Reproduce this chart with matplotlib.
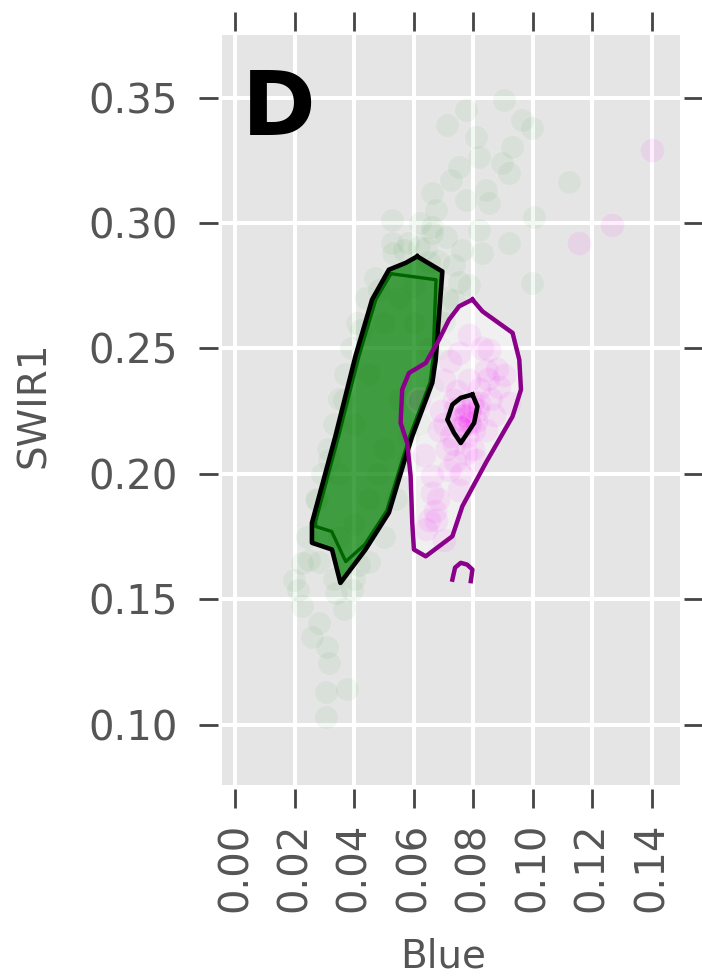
import numpy as np
import matplotlib.pyplot as plt
from matplotlib.patches import Polygon

# scattered samples (Blue, SWIR1)
green_x = [0.0904, 0.0712, 0.0776, 0.0965, 0.0998, 0.0931, 0.0810, 0.0820, 0.0752, 0.0897,
           0.0921, 0.0725, 0.0661, 0.0843, 0.0853, 0.0776, 0.0526, 0.0675, 0.1005, 0.0921,
           0.0708, 0.0820, 0.0830, 0.0617, 0.0526, 0.1123, 0.0998, 0.0762, 0.0661, 0.0735,
           0.0786, 0.0735, 0.0702, 0.0752, 0.0567, 0.0651,
           0.0246, 0.0223, 0.0337, 0.0280, 0.0256, 0.0307, 0.0314, 0.0304, 0.0374, 0.0304,
           0.0212, 0.0391, 0.0223, 0.0196, 0.0415, 0.0364,
           0.0314, 0.0364, 0.0422, 0.0273, 0.0482,
           0.027, 0.029, 0.031, 0.033, 0.035, 0.037, 0.039, 0.041, 0.044, 0.047,
           0.024, 0.028, 0.033, 0.064, 0.068, 0.071, 0.070, 0.069, 0.066, 0.062,
           0.058, 0.054, 0.050, 0.045, 0.040, 0.058, 0.053, 0.062, 0.066,
           0.035, 0.040, 0.045, 0.050, 0.055, 0.060, 0.055, 0.050, 0.045, 0.040,
           0.035, 0.060, 0.065, 0.058, 0.048]
green_y = [0.3492, 0.3392, 0.3452, 0.3412, 0.3380, 0.3305, 0.3345, 0.3265, 0.3225, 0.3241,
           0.3201, 0.3173, 0.3121, 0.3133, 0.3081, 0.3093, 0.3014, 0.3053, 0.3026, 0.2922,
           0.2946, 0.2974, 0.2882, 0.2906, 0.2922, 0.3165, 0.2762, 0.2894, 0.2986, 0.2834,
           0.2754, 0.2695, 0.2615, 0.2766, 0.2894, 0.2846,
           0.1658, 0.1471, 0.1526, 0.1407, 0.1351, 0.1311, 0.1247, 0.1128, 0.1140, 0.1032,
           0.1538, 0.1538, 0.1646, 0.1578, 0.1638, 0.1459,
           0.2057, 0.2296, 0.2575, 0.1897, 0.2734,
           0.190, 0.200, 0.210, 0.220, 0.230, 0.240, 0.250, 0.260, 0.270, 0.278,
           0.175, 0.165, 0.158, 0.290, 0.285, 0.270, 0.260, 0.250, 0.235, 0.220,
           0.205, 0.190, 0.175, 0.165, 0.158, 0.292, 0.288, 0.300, 0.296,
           0.200, 0.220, 0.240, 0.260, 0.270, 0.260, 0.230, 0.210, 0.190, 0.180,
           0.175, 0.275, 0.250, 0.215, 0.200]

magenta_x = [0.1400, 0.1268, 0.1157, 0.0752, 0.0843, 0.0887, 0.0820, 0.0762, 0.0776, 0.0685,
             0.0675, 0.0810, 0.0718, 0.0661, 0.0843, 0.0921, 0.0853, 0.0786, 0.0803, 0.0735,
             0.0786, 0.0870, 0.0735, 0.0752, 0.0634, 0.0702, 0.0904, 0.0651, 0.0702, 0.0786,
             0.0617, 0.0770, 0.0790, 0.0775, 0.0790, 0.0750, 0.0810, 0.0765, 0.0795, 0.0740,
             0.0670, 0.0640, 0.0660, 0.0720, 0.0830, 0.0860, 0.0700, 0.0760, 0.0780, 0.0745,
             0.0820, 0.0690, 0.0880, 0.0725, 0.0680, 0.0800, 0.0772, 0.0785, 0.0758, 0.0798,
             0.0815, 0.0740, 0.0710, 0.0850]
magenta_y = [0.3293, 0.2994, 0.2922, 0.2483, 0.2416, 0.2348, 0.2284, 0.2216, 0.2085, 0.2176,
             0.1817, 0.2057, 0.2017, 0.1925, 0.2176, 0.2284, 0.2495, 0.2256, 0.2176, 0.2296,
             0.2376, 0.2236, 0.2117, 0.1937, 0.2077, 0.2376, 0.2396, 0.1817, 0.1738, 0.2555,
             0.2296, 0.2230, 0.2200, 0.2250, 0.2240, 0.2220, 0.2210, 0.2190, 0.2270, 0.2260,
             0.1850, 0.1780, 0.1990, 0.2450, 0.2500, 0.2300, 0.2200, 0.2000, 0.2150, 0.2330,
             0.2340, 0.2250, 0.2420, 0.2150, 0.1900, 0.2100, 0.2235, 0.2205, 0.2185, 0.2285,
             0.2255, 0.2050, 0.2100, 0.2380]

# density contour outlines
green_outer_x = [0.06115, 0.06959, 0.06736, 0.06621, 0.05947, 0.05667, 0.05161, 0.04375, 0.03532,
                 0.03248, 0.02574, 0.02574, 0.03363, 0.04037, 0.04597, 0.05161, 0.05724]
green_outer_y = [0.2867, 0.2807, 0.2455, 0.2363, 0.2150, 0.2045, 0.1845, 0.1698, 0.1565,
                 0.1698, 0.1725, 0.1804, 0.2150, 0.2469, 0.2695, 0.2814, 0.2841]
green_inner_x = [0.05228, 0.06746, 0.06645, 0.06544, 0.05869, 0.05599, 0.05093, 0.04351, 0.03710,
                 0.03238, 0.02698, 0.02698, 0.03474, 0.04149, 0.04722]
green_inner_y = [0.2798, 0.2774, 0.2455, 0.2364, 0.2152, 0.2049, 0.1853, 0.1718, 0.1650,
                 0.1770, 0.1790, 0.1810, 0.2152, 0.2467, 0.2695]

magenta_outer_x = [0.0797, 0.08308, 0.0932, 0.09546, 0.09603, 0.0932, 0.08422, 0.07633, 0.07296,
                   0.06399, 0.06004, 0.05947, 0.05893, 0.05778, 0.05555, 0.05609, 0.05835, 0.06399,
                   0.06847, 0.07184, 0.07522]
magenta_outer_y = [0.2695, 0.2648, 0.2562, 0.2455, 0.2336, 0.2229, 0.2044, 0.1871, 0.1751,
                   0.1671, 0.1698, 0.1804, 0.1990, 0.2123, 0.2203, 0.2336, 0.2402, 0.2442,
                   0.2535, 0.2615, 0.2668]
magenta_arc_x = [0.07296, 0.07387, 0.07579, 0.07792, 0.0797, 0.07916]
magenta_arc_y = [0.1578, 0.1626, 0.1645, 0.1638, 0.1618, 0.1572]
magenta_inner_x = [0.0797, 0.08139, 0.08028, 0.07579, 0.07353, 0.07127, 0.07296, 0.07579]
magenta_inner_y = [0.2316, 0.2269, 0.2203, 0.2123, 0.2163, 0.2216, 0.2276, 0.2303]

xticks = [0.00, 0.02, 0.04, 0.06, 0.08, 0.10, 0.12, 0.14]
yticks = [0.10, 0.15, 0.20, 0.25, 0.30, 0.35]

fig = plt.figure(figsize=(7.02, 9.8), dpi=100)
ax = fig.add_axes([222 / 702, 1 - 785 / 980, 458 / 702, 750 / 980])
ax.set_facecolor('#E5E5E5')

ax.scatter(green_x, green_y, s=280, color='green', alpha=0.05,
           edgecolors='white', linewidths=2, zorder=2)
ax.add_patch(Polygon(np.column_stack([magenta_outer_x, magenta_outer_y]), closed=True,
                     facecolor='white', alpha=0.45, edgecolor='none', zorder=2))
ax.add_patch(Polygon(np.column_stack([green_outer_x, green_outer_y]), closed=True,
                     facecolor='green', alpha=0.72, edgecolor='none', zorder=3))
ax.scatter(magenta_x, magenta_y, s=300, color='magenta', alpha=0.075,
           edgecolors='white', linewidths=2, zorder=4)

ax.plot(green_inner_x + green_inner_x[:1], green_inner_y + green_inner_y[:1],
        color='darkgreen', lw=2.4, zorder=5)
ax.plot(green_outer_x + green_outer_x[:1], green_outer_y + green_outer_y[:1],
        color='black', lw=3.3, zorder=6)
ax.plot(magenta_outer_x + magenta_outer_x[:1], magenta_outer_y + magenta_outer_y[:1],
        color='#8B008B', lw=3.2, zorder=6)
ax.plot(magenta_arc_x, magenta_arc_y, color='#8B008B', lw=3.2, zorder=6)
ax.plot(magenta_inner_x + magenta_inner_x[:1], magenta_inner_y + magenta_inner_y[:1],
        color='black', lw=3.3, zorder=7)

ax.set_xlim(-0.0045, 0.1495)
ax.set_ylim(0.0759, 0.375)
ax.set_xticks(xticks)
ax.set_xticklabels(['%.2f' % v for v in xticks])
ax.set_yticks(yticks)
ax.set_yticklabels(['%.2f' % v for v in yticks])

ax.grid(True, color='white', linewidth=2.9)
ax.set_axisbelow(True)
for side in ['left', 'right', 'top', 'bottom']:
    ax.spines[side].set_visible(False)
    ax.spines[side].set_position(('outward', 3))

ax.tick_params(axis='both', direction='out', length=14, width=2, color='#444444',
               labelsize=29, labelcolor='#555555', top=True, right=True,
               labeltop=False, labelright=False)
ax.tick_params(axis='y', pad=15)
ax.tick_params(axis='x', pad=10, labelrotation=90)

ax.set_xlabel('Blue', fontsize=28, color='#555555')
ax.set_ylabel('SWIR1', fontsize=28, color='#555555')
ax.xaxis.set_label_coords(0.4825, -0.203)
ax.yaxis.set_label_coords(-0.37, 0.507)

ax.text(0.044, 0.8667, 'D', transform=ax.transAxes, fontsize=64, fontweight='bold',
        color='black', va='baseline', ha='left', zorder=10)

fig.savefig('out.png', dpi=100)
